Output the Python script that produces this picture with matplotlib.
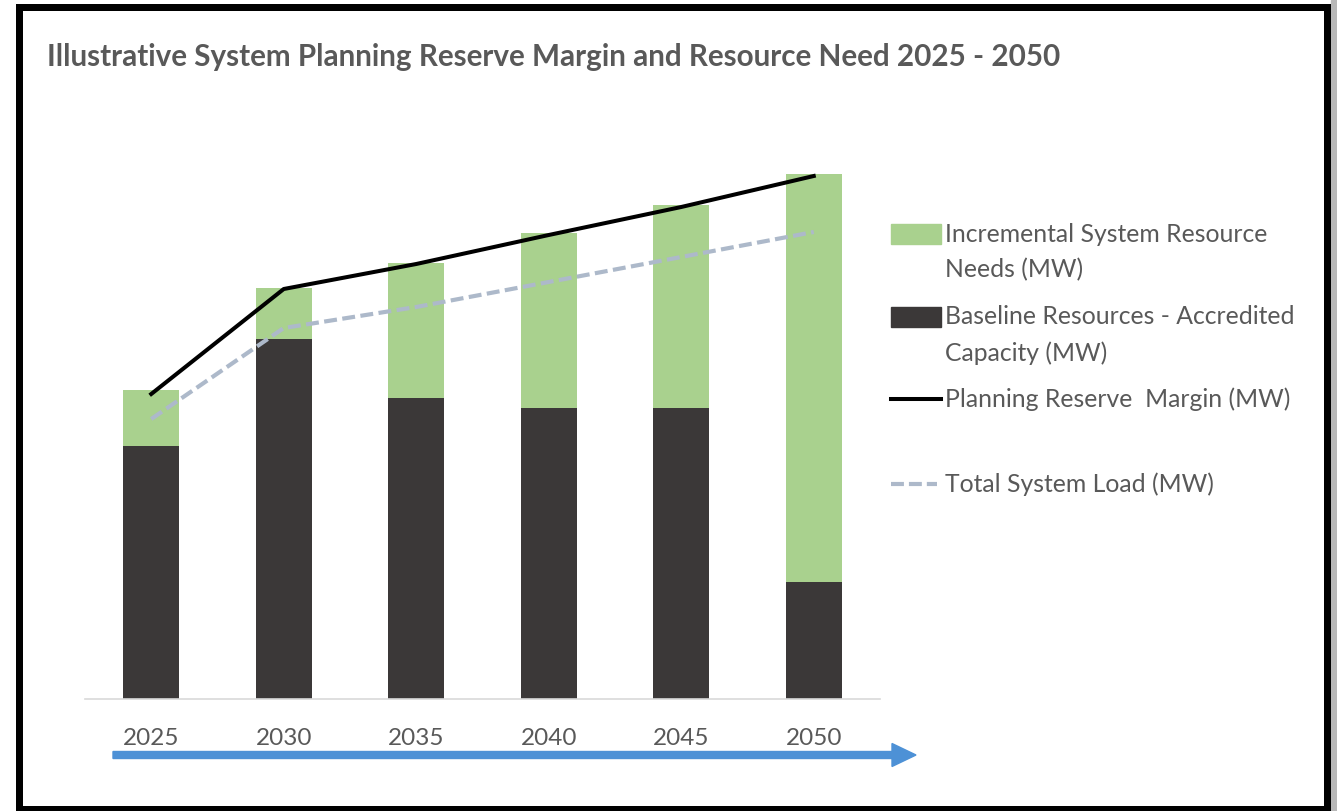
import numpy as np
import matplotlib
matplotlib.use("Agg")
import matplotlib.pyplot as plt
import matplotlib.patches as mpatches
from matplotlib.lines import Line2D
from matplotlib.transforms import IdentityTransform

# illustrative values (MW, arbitrary scale)
years = ["2025", "2030", "2035", "2040", "2045", "2050"]
baseline_mw = [253, 360, 301, 291, 291, 117]
incremental_mw = [56, 51, 135, 175, 203, 408]
reserve_margin_mw = [305, 410, 435, 464, 492, 523]
system_load_mw = [280, 371, 392, 417, 442, 467]

legend_labels = [["Incremental System Resource", "Needs (MW)"],
                 ["Baseline Resources - Accredited", "Capacity (MW)"],
                 ["Planning Reserve  Margin (MW)"],
                 ["Total System Load (MW)"]]
title = "Illustrative System Planning Reserve Margin and Resource Need 2025 - 2050"

GREEN = "#A9D18E"
DARK = "#3B3838"
LOAD = "#ADB9CA"
TXT = "#595959"
ARROW = "#4D91D6"

plt.rcParams["font.family"] = ["Lato", "DejaVu Sans"]

W, H = 1337, 811
fig = plt.figure(figsize=(W / 100, H / 100), dpi=100)

def fx(px):
    return px / W

def fy(py):
    return 1 - py / H

ax = fig.add_axes([fx(85), fy(699), fx(880) - fx(85), fy(139) - fy(699)])
x = np.arange(len(years))
ax.bar(x, baseline_mw, width=0.42, color=DARK, zorder=2)
ax.bar(x, incremental_mw, width=0.42, bottom=baseline_mw, color=GREEN, zorder=2)
ax.plot(x, system_load_mw, color=LOAD, lw=3, dashes=(3.1, 1.3), zorder=3)
ax.plot(x, reserve_margin_mw, color="black", lw=2.9, zorder=4)

ax.set_xlim(-0.5, len(years) - 0.5)
ax.set_ylim(0, 560)
ax.set_xticks(x)
ax.set_xticklabels(years, fontsize=17.5, color=TXT)
ax.tick_params(axis="x", length=0, pad=21)
ax.set_yticks([])
for s in ["top", "left", "right"]:
    ax.spines[s].set_visible(False)
ax.spines["bottom"].set_color("#D9D9D9")
ax.spines["bottom"].set_linewidth(1.2)

fig.text(fx(47), fy(57), title, fontsize=21.3, fontweight="bold", color=TXT,
         ha="left", va="center")

# legend, drawn by hand so the rows sit like the original layout
rows = [234, 317, 399, 484]
for i, (py, lines) in enumerate(zip(rows, legend_labels)):
    if i < 2:
        fig.add_artist(mpatches.Rectangle((fx(891), fy(py + 10)), fx(50), fy(py - 10) - fy(py + 10),
                                          color=[GREEN, DARK][i], transform=fig.transFigure))
    elif i == 2:
        fig.add_artist(Line2D([fx(891), fx(941)], [fy(py), fy(py)], color="black", lw=2.9,
                              transform=fig.transFigure))
    else:
        fig.add_artist(Line2D([fx(891), fx(937)], [fy(py), fy(py)], color=LOAD, lw=3,
                              dashes=(3.1, 1.2), transform=fig.transFigure))
    for k, line in enumerate(lines):
        fig.text(fx(945), fy(py + 36 * k), line, fontsize=17.8, color=TXT,
                 ha="left", va="center")

# timeline arrow under the years
arrow = mpatches.FancyArrow(113, H - 755, 916 - 113, 0, width=7, head_width=23, head_length=24,
                            length_includes_head=True, color=ARROW, transform=IdentityTransform())
fig.add_artist(arrow)

# frame
fig.add_artist(mpatches.Rectangle((1331, 0), 6, H, color="#B8B8B8", transform=IdentityTransform()))
fig.add_artist(mpatches.Rectangle((18.5, 2.5), 1327 - 18.5, (H - 6.5) - 2.5, fill=False,
                                  edgecolor="black", lw=7 * 0.72, transform=IdentityTransform()))

fig.savefig("out.png", dpi=100)
